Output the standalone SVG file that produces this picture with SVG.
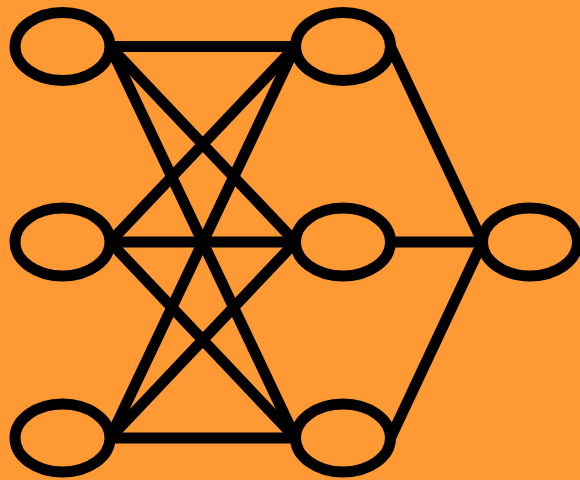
<svg xmlns="http://www.w3.org/2000/svg" width="580" height="480" viewBox="0 0 580 480">
<style>
.n{fill:#FF9933;stroke:#000;stroke-width:11}
.e{stroke:#000;stroke-width:11;stroke-linecap:butt;fill:none}
</style>
<rect width="580" height="480" fill="#FF9933"/>
<g id="connectors">
<line class="e" x1="110" y1="46.5" x2="295.5" y2="46.5"/>
<line class="e" x1="110" y1="46.5" x2="295.5" y2="242"/>
<line class="e" x1="110" y1="46.5" x2="295.5" y2="438"/>
<line class="e" x1="110" y1="242" x2="295.5" y2="46.5"/>
<line class="e" x1="110" y1="242" x2="295.5" y2="242"/>
<line class="e" x1="110" y1="242" x2="295.5" y2="438"/>
<line class="e" x1="110" y1="438" x2="295.5" y2="46.5"/>
<line class="e" x1="110" y1="438" x2="295.5" y2="242"/>
<line class="e" x1="110" y1="438" x2="295.5" y2="438"/>
<line class="e" x1="390.5" y1="46.5" x2="482.5" y2="242"/>
<line class="e" x1="390.5" y1="242" x2="482.5" y2="242"/>
<line class="e" x1="390.5" y1="438" x2="482.5" y2="242"/>
</g>
<g id="in1"><ellipse class="n" cx="62.5" cy="46.5" rx="47.5" ry="34"/></g>
<g id="in2"><ellipse class="n" cx="62.5" cy="242" rx="47.5" ry="34"/></g>
<g id="in3"><ellipse class="n" cx="62.5" cy="438" rx="47.5" ry="34"/></g>
<g id="h1"><ellipse class="n" cx="343" cy="46.5" rx="47.5" ry="34"/></g>
<g id="h2"><ellipse class="n" cx="343" cy="242" rx="47.5" ry="34"/></g>
<g id="h3"><ellipse class="n" cx="343" cy="438" rx="47.5" ry="34"/></g>
<g id="out"><ellipse class="n" cx="530" cy="242" rx="47.5" ry="34"/></g>
</svg>
